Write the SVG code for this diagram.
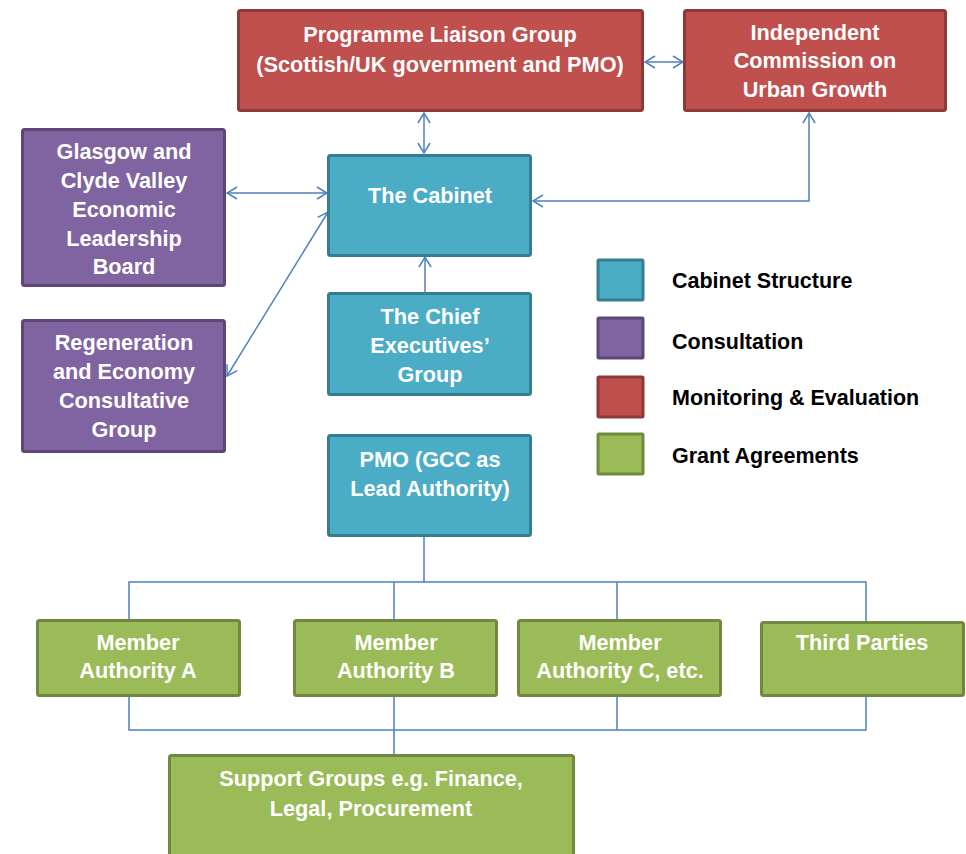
<svg xmlns="http://www.w3.org/2000/svg" width="966" height="854" viewBox="0 0 966 854">
  <style>
    .box { stroke-width: 3; }
    .red { fill: #C0504D; stroke: #8C3A38; }
    .blue { fill: #4BACC6; stroke: #357D91; }
    .purple { fill: #8064A2; stroke: #5C4776; }
    .green { fill: #9BBB59; stroke: #71893F; }
    .lbl { font-family: "Liberation Sans", Arial, sans-serif; font-weight: bold; font-size: 21.7px; fill: #FFFFFF; text-anchor: middle; }
    .key { font-family: "Liberation Sans", Arial, sans-serif; font-weight: bold; font-size: 21.5px; fill: #000000; }
    .conn { fill: none; stroke: #4F81BD; stroke-width: 1.5; }
  </style>
  <defs>
    <marker id="arrow" viewBox="0 0 12 14" refX="11" refY="7" markerWidth="12" markerHeight="14" markerUnits="userSpaceOnUse" orient="auto-start-reverse">
      <path d="M1,1 L11,7 L1,13" fill="none" stroke="#4F81BD" stroke-width="1.5"/>
    </marker>
  </defs>
  <rect width="966" height="854" fill="#FFFFFF"/>

  <!-- connectors -->
  <g id="connectors">
    <line class="conn" x1="645" y1="62" x2="683" y2="62" marker-start="url(#arrow)" marker-end="url(#arrow)"/>
    <line class="conn" x1="424" y1="113" x2="424" y2="153" marker-start="url(#arrow)" marker-end="url(#arrow)"/>
    <polyline class="conn" points="809,113 809,201 533,201" marker-start="url(#arrow)" marker-end="url(#arrow)"/>
    <line class="conn" x1="227" y1="193" x2="327" y2="193" marker-start="url(#arrow)" marker-end="url(#arrow)"/>
    <line class="conn" x1="227" y1="376" x2="328" y2="212" marker-start="url(#arrow)" marker-end="url(#arrow)"/>
    <line class="conn" x1="425" y1="292" x2="425" y2="257" marker-end="url(#arrow)"/>
    <!-- PMO tree -->
    <line class="conn" x1="424" y1="537" x2="424" y2="582"/>
    <polyline class="conn" points="129,619 129,582 866,582 866,621"/>
    <line class="conn" x1="394" y1="582" x2="394" y2="619"/>
    <line class="conn" x1="617" y1="582" x2="617" y2="619"/>
    <polyline class="conn" points="129,697 129,730 866,730 866,697"/>
    <line class="conn" x1="394" y1="697" x2="394" y2="754"/>
    <line class="conn" x1="617" y1="697" x2="617" y2="730"/>
  </g>

  <g id="programme-liaison-group">
    <rect class="box red" x="238.5" y="10.5" width="404" height="100" rx="2"/>
    <text class="lbl" x="440" y="42">Programme Liaison Group</text>
    <text class="lbl" x="440" y="72">(Scottish/UK government and PMO)</text>
  </g>

  <g id="independent-commission">
    <rect class="box red" x="684.5" y="10.5" width="261" height="100" rx="2"/>
    <text class="lbl" x="815" y="40">Independent</text>
    <text class="lbl" x="815" y="68">Commission on</text>
    <text class="lbl" x="815" y="97">Urban Growth</text>
  </g>

  <g id="cabinet">
    <rect class="box blue" x="328.5" y="155.5" width="202" height="100" rx="2"/>
    <text class="lbl" x="430" y="203">The Cabinet</text>
  </g>

  <g id="glasgow-board">
    <rect class="box purple" x="22.5" y="129.5" width="202" height="156" rx="2"/>
    <text class="lbl" x="124" y="159">Glasgow and</text>
    <text class="lbl" x="124" y="188">Clyde Valley</text>
    <text class="lbl" x="124" y="217">Economic</text>
    <text class="lbl" x="124" y="246">Leadership</text>
    <text class="lbl" x="124" y="274">Board</text>
  </g>

  <g id="regeneration-group">
    <rect class="box purple" x="22.5" y="320.5" width="202" height="131" rx="2"/>
    <text class="lbl" x="124" y="350">Regeneration</text>
    <text class="lbl" x="124" y="379">and Economy</text>
    <text class="lbl" x="124" y="408">Consultative</text>
    <text class="lbl" x="124" y="437">Group</text>
  </g>

  <g id="chief-executives">
    <rect class="box blue" x="328.5" y="293.5" width="202" height="101" rx="2"/>
    <text class="lbl" x="430" y="324">The Chief</text>
    <text class="lbl" x="430" y="353">Executives’</text>
    <text class="lbl" x="430" y="382">Group</text>
  </g>

  <g id="pmo">
    <rect class="box blue" x="328.5" y="435.5" width="202" height="100" rx="2"/>
    <text class="lbl" x="430" y="467">PMO (GCC as</text>
    <text class="lbl" x="430" y="496">Lead Authority)</text>
  </g>

  <g id="member-a">
    <rect class="box green" x="37.5" y="620.5" width="202" height="75" rx="2"/>
    <text class="lbl" x="138" y="650">Member</text>
    <text class="lbl" x="138" y="678">Authority A</text>
  </g>

  <g id="member-b">
    <rect class="box green" x="294.5" y="620.5" width="202" height="75" rx="2"/>
    <text class="lbl" x="396" y="650">Member</text>
    <text class="lbl" x="396" y="678">Authority B</text>
  </g>

  <g id="member-c">
    <rect class="box green" x="518.5" y="620.5" width="202" height="75" rx="2"/>
    <text class="lbl" x="620" y="650">Member</text>
    <text class="lbl" x="620" y="678">Authority C, etc.</text>
  </g>

  <g id="third-parties">
    <rect class="box green" x="761.5" y="622.5" width="202" height="73" rx="2"/>
    <text class="lbl" x="862" y="650">Third Parties</text>
  </g>

  <g id="support-groups">
    <rect class="box green" x="169.5" y="755.5" width="404" height="110" rx="2"/>
    <text class="lbl" x="371" y="786">Support Groups e.g. Finance,</text>
    <text class="lbl" x="371" y="816">Legal, Procurement</text>
  </g>

  <g id="legend">
    <rect class="box blue" x="598" y="260" width="45" height="40" rx="1"/>
    <text class="key" x="672" y="288">Cabinet Structure</text>
    <rect class="box purple" x="598" y="318" width="45" height="40" rx="1"/>
    <text class="key" x="672" y="349">Consultation</text>
    <rect class="box red" x="598" y="377" width="45" height="40" rx="1"/>
    <text class="key" x="672" y="405">Monitoring &amp; Evaluation</text>
    <rect class="box green" x="598" y="434" width="45" height="40" rx="1"/>
    <text class="key" x="672" y="463">Grant Agreements</text>
  </g>
</svg>
